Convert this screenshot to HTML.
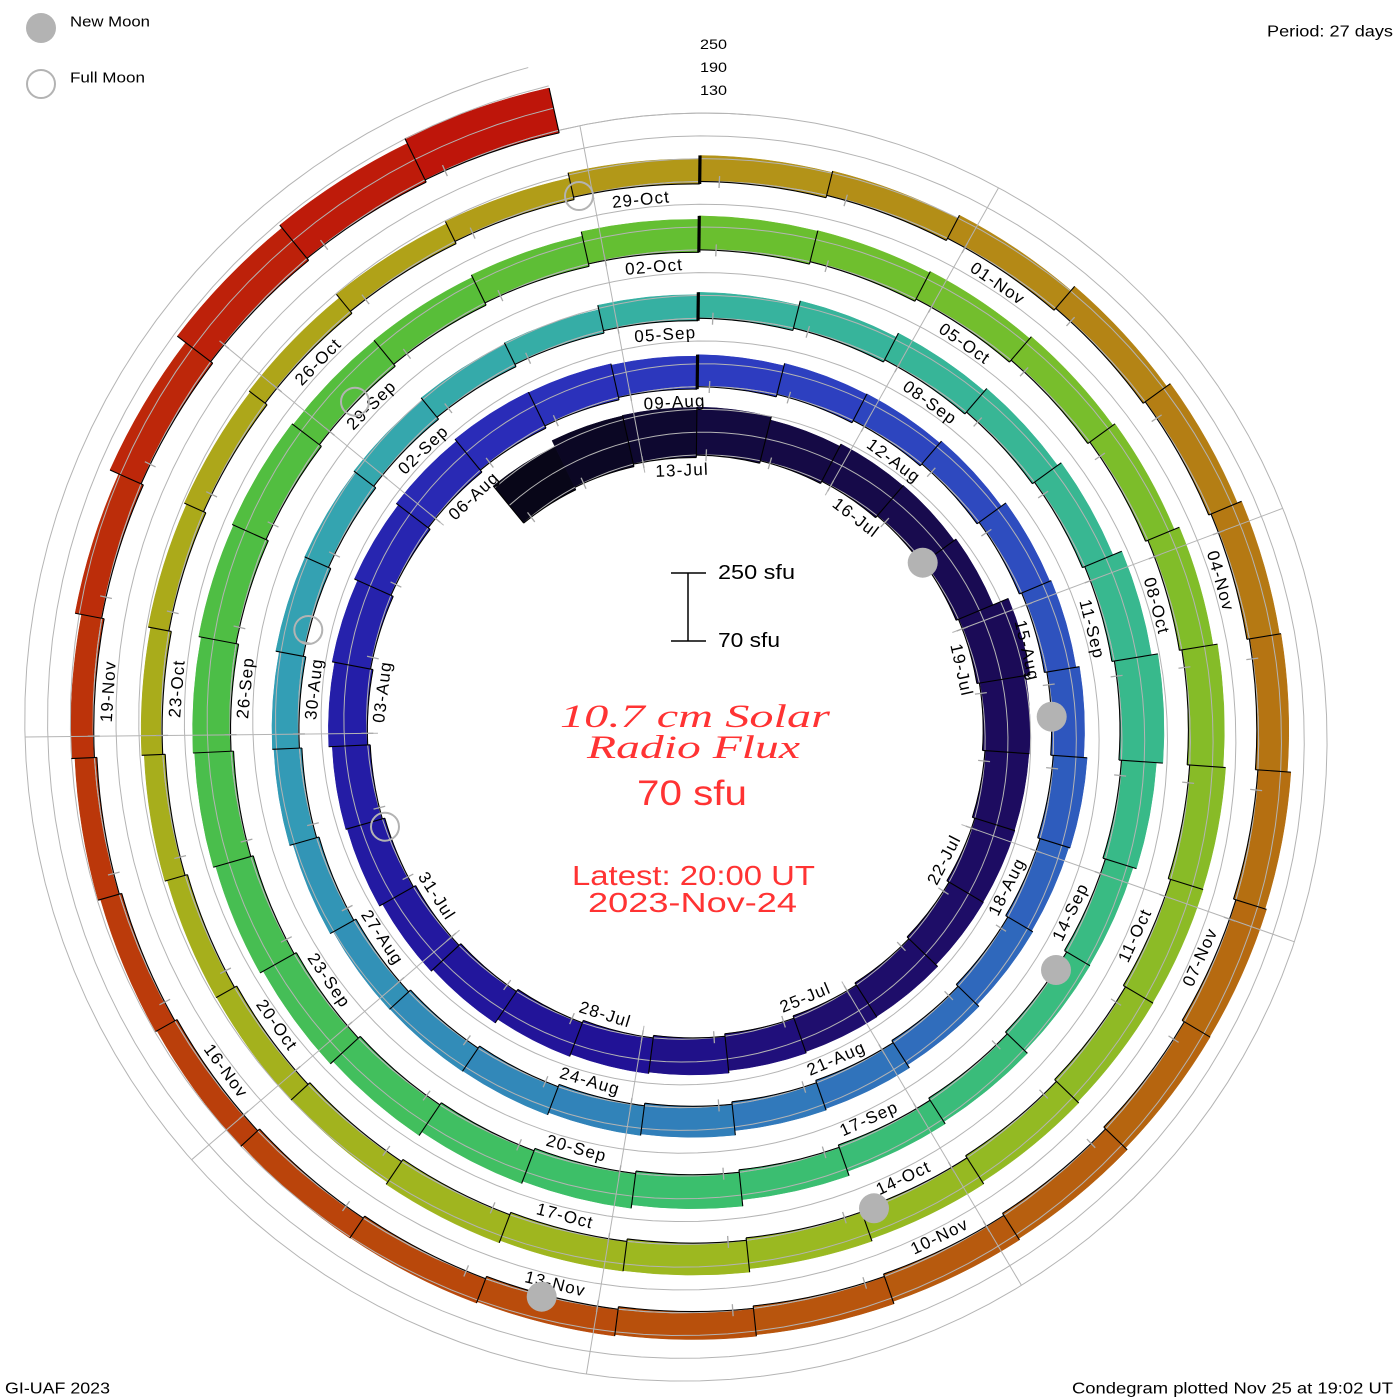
<!DOCTYPE html>
<html>
<head>
<meta charset="utf-8">
<style>
html,body{margin:0;padding:0;background:#fff;}
svg{display:block;}
text{font-family:"Liberation Sans",sans-serif;}
</style>
</head>
<body>
<svg id="s" width="1400" height="1400" viewBox="0 0 1400 1400" xmlns="http://www.w3.org/2000/svg">
<rect x="0" y="0" width="1400" height="1400" fill="#ffffff"/>
<g id="bars"></g>
<g id="grid" fill="none" stroke="#b4b4b4" stroke-width="1"></g>
<g id="edges" stroke="#000" fill="none"></g>
<g id="ticks" stroke="#a8a8a8" stroke-width="1.3"></g>
<g id="labels" font-size="17" fill="#000" text-anchor="middle" dominant-baseline="central" letter-spacing="1.2">
<text>13-Jul</text><text>16-Jul</text><text>19-Jul</text><text>22-Jul</text><text>25-Jul</text><text>28-Jul</text><text>31-Jul</text>
<text>03-Aug</text><text>06-Aug</text><text>09-Aug</text><text>12-Aug</text><text>15-Aug</text><text>18-Aug</text><text>21-Aug</text><text>24-Aug</text><text>27-Aug</text><text>30-Aug</text>
<text>02-Sep</text><text>05-Sep</text><text>08-Sep</text><text>11-Sep</text><text>14-Sep</text><text>17-Sep</text><text>20-Sep</text><text>23-Sep</text><text>26-Sep</text><text>29-Sep</text>
<text>02-Oct</text><text>05-Oct</text><text>08-Oct</text><text>11-Oct</text><text>14-Oct</text><text>17-Oct</text><text>20-Oct</text><text>23-Oct</text><text>26-Oct</text><text>29-Oct</text>
<text>01-Nov</text><text>04-Nov</text><text>07-Nov</text><text>10-Nov</text><text>13-Nov</text><text>16-Nov</text><text>19-Nov</text>
</g>

<!-- moons -->
<g fill="#b3b3b3">
<circle cx="922.7" cy="562.7" r="15"/>
<circle cx="1051.7" cy="716.7" r="15"/>
<circle cx="1056" cy="970" r="15"/>
<circle cx="874" cy="1208.3" r="15"/>
<circle cx="541.7" cy="1296.7" r="15"/>
</g>
<g fill="none" stroke="#b3b3b3" stroke-width="2">
<circle cx="579" cy="196" r="14"/>
<circle cx="355" cy="401.7" r="14"/>
<circle cx="308.3" cy="630" r="14"/>
<circle cx="385" cy="826.7" r="14"/>
</g>

<!-- legend -->
<circle cx="41" cy="28" r="15" fill="#b3b3b3"/>
<circle cx="41" cy="84" r="14" fill="none" stroke="#b3b3b3" stroke-width="2"/>
<text x="70" y="22" font-size="15" dominant-baseline="central" textLength="80" lengthAdjust="spacingAndGlyphs">New Moon</text>
<text x="70" y="78" font-size="15" dominant-baseline="central" textLength="75" lengthAdjust="spacingAndGlyphs">Full Moon</text>

<!-- top level labels -->
<text x="700" y="44" font-size="14" dominant-baseline="central" textLength="27" lengthAdjust="spacingAndGlyphs">250</text>
<text x="700" y="67" font-size="14" dominant-baseline="central" textLength="27" lengthAdjust="spacingAndGlyphs">190</text>
<text x="700" y="90" font-size="14" dominant-baseline="central" textLength="27" lengthAdjust="spacingAndGlyphs">130</text>

<text x="1267" y="32" font-size="16" dominant-baseline="central" textLength="126" lengthAdjust="spacingAndGlyphs">Period: 27 days</text>
<text x="5" y="1389" font-size="16" dominant-baseline="central" textLength="105" lengthAdjust="spacingAndGlyphs">GI-UAF 2023</text>
<text x="1072" y="1389" font-size="16" dominant-baseline="central" textLength="321" lengthAdjust="spacingAndGlyphs">Condegram plotted Nov 25 at 19:02 UT</text>

<!-- scale bar -->
<g stroke="#000" stroke-width="1.5">
<line x1="688" y1="573" x2="688" y2="641"/>
<line x1="671" y1="573" x2="706" y2="573"/>
<line x1="671" y1="641" x2="706" y2="641"/>
</g>
<text x="718" y="573" font-size="20" dominant-baseline="central" textLength="77" lengthAdjust="spacingAndGlyphs">250 sfu</text>
<text x="718" y="641" font-size="20" dominant-baseline="central" textLength="62" lengthAdjust="spacingAndGlyphs">70 sfu</text>

<!-- center title -->
<g fill="#ff3333" text-anchor="middle">
<text x="695" y="727" font-style="italic" font-size="33" textLength="270" lengthAdjust="spacingAndGlyphs" style="font-family:'Liberation Serif',serif">10.7 cm Solar</text>
<text x="693.5" y="758" font-style="italic" font-size="33" textLength="213" lengthAdjust="spacingAndGlyphs" style="font-family:'Liberation Serif',serif">Radio Flux</text>
<text x="692" y="805" font-size="35" textLength="110" lengthAdjust="spacingAndGlyphs">70 sfu</text>
<text x="693.5" y="885" font-size="28" textLength="243" lengthAdjust="spacingAndGlyphs">Latest: 20:00 UT</text>
<text x="692.5" y="912" font-size="28" textLength="209" lengthAdjust="spacingAndGlyphs">2023-Nov-24</text>
</g>
</svg>

<script>
(function(){
var NS="http://www.w3.org/2000/svg";
var CX=693,CY=730,A0=-129.3,DA=360/27,R0=267.4,DR=68.4/27;
function rb(u){return R0+DR*u;}
function ang(u){return A0+DA*u;}
function pt(r,a){var t=a*Math.PI/180;return [(CX+r*Math.cos(t)).toFixed(2),(CY+r*Math.sin(t)).toFixed(2)];}
function el(tag,attrs,parent){var e=document.createElementNS(NS,tag);for(var k in attrs){e.setAttribute(k,attrs[k]);}parent.appendChild(e);return e;}

var H=[48,52,50,
48,42,42,40,40,54,47,44,42,40,40,38,37,37,36,36,38,38,39,38,39,39,40,40,40,37,33,
32,32,30,30,33,32,33,34,30,29,29,30,29,31,30,30,28,26,27,28,27,28,26,25,25,24,26,
26,28,30,31,33,40,44,35,29,27,28,28,30,34,35,35,37,38,39,39,38,38,37,33,31,31,33,
34,32,31,31,31,34,36,36,34,32,31,31,31,32,30,30,25,23,21,21,21,21,21,20,22,22,25,
26,25,26,29,31,33,32,33,32,30,30,29,29,28,27,26,24,23,22,22,23,27,34,42,43,46];

var stops=[[0,8,6,24],[2,14,8,48],[3,19,10,64],[9,28,11,92],[14,31,14,110],[17,33,18,150],
[23,36,30,168],[27,42,44,184],[30,45,60,192],[36,46,86,190],[43,49,127,186],[50,51,158,181],
[54,53,170,170],[57,55,179,158],[63,56,185,140],[70,59,191,109],[77,76,190,71],[81,88,190,57],
[84,106,191,47],[90,133,188,40],[97,157,184,32],[104,169,172,27],[108,176,162,24],[111,179,147,24],
[117,181,116,18],[124,184,80,12],[131,188,51,10],[136,190,21,10]];
function col(i){
  for(var s=0;s<stops.length-1;s++){
    if(i<=stops[s+1][0]){
      var a=stops[s],b=stops[s+1];var f=(i-a[0])/(b[0]-a[0]);
      return 'rgb('+Math.round(a[1]+f*(b[1]-a[1]))+','+Math.round(a[2]+f*(b[2]-a[2]))+','+Math.round(a[3]+f*(b[3]-a[3]))+')';
    }
  }
  var l=stops[stops.length-1];return 'rgb('+l[1]+','+l[2]+','+l[3]+')';
}

var bars=document.getElementById('bars'),edges=document.getElementById('edges'),grid=document.getElementById('grid'),ticks=document.getElementById('ticks');
var N=H.length,i;

for(i=0;i<N;i++){
  var a1=ang(i),a2=ang(i+1),r1=rb(i),r2=r1+H[i];
  var p1=pt(r1,a1),p2=pt(r1,a2),p3=pt(r2,a2),p4=pt(r2,a1);
  var c=col(i);
  var d='M'+p1[0]+','+p1[1]+' A'+r1.toFixed(2)+','+r1.toFixed(2)+' 0 0 1 '+p2[0]+','+p2[1]+
        ' L'+p3[0]+','+p3[1]+' A'+r2.toFixed(2)+','+r2.toFixed(2)+' 0 0 0 '+p4[0]+','+p4[1]+' Z';
  el('path',{d:d,fill:c,stroke:c,'stroke-width':'0.5'},bars);
  el('path',{d:'M'+p1[0]+','+p1[1]+' A'+r1.toFixed(2)+','+r1.toFixed(2)+' 0 0 1 '+p2[0]+','+p2[1],'stroke-width':'1.1'},edges);
}

/* grid spirals */
var UM=[138.35,137,137,136.9];
for(var k=0;k<4;k++){
  var umax=UM[k];var pts=[];
  for(var u=0;u<=umax+1e-9;u+=0.2){var p=pt(rb(u)+22.8*k,ang(u));pts.push(p[0]+','+p[1]);}
  var pe=pt(rb(umax)+22.8*k,ang(umax));pts.push(pe[0]+','+pe[1]);
  el('polyline',{points:pts.join(' ')},grid);
}
/* radial lines */
for(var j=0;j<9;j++){
  var th=19.4+40*j;var tn=((th-A0)%360+360)%360;var u0=tn/DA;var ul=u0+27*Math.floor((160-u0)/27);
  var q1=pt(rb(u0)-11,th),q2=pt(rb(ul),th);
  el('line',{x1:q1[0],y1:q1[1],x2:q2[0],y2:q2[1]},grid);
}

/* segment boundaries */
for(i=0;i<=N;i++){
  var a=ang(i);
  var rin=(i>0)?rb(i-1):rb(0);
  var ro=Math.max((i>0)?rb(i-1)+H[i-1]:0,(i<N)?rb(i)+H[i]:0);
  var w=(i>=30&&(i-3)%27===0)?3.2:1.1;
  if(i===1) continue;
  var b1=pt(rin,a),b2=pt(ro,a);
  el('line',{x1:b1[0],y1:b1[1],x2:b2[0],y2:b2[1],'stroke-width':w},edges);
}

/* date ticks */
for(var dd=-3;dd<=134;dd++){
  var t=-87.25+DA*dd;var uu=(t-A0)/DA;if(uu<0||uu>=N)continue;
  var r=rb(Math.floor(uu));
  var t1=pt(r-6,t),t2=pt(r+6,t);
  el('line',{x1:t1[0],y1:t1[1],x2:t2[0],y2:t2[1]},ticks);
}

/* labels */
var labs=document.getElementById('labels').getElementsByTagName('text');
for(var n=0;n<labs.length;n++){
  var dl=3*n;var al=-92.4+13.3037*dl;var ulab=(al-A0)/DA;var rl=rb(ulab)-14.5;
  var am=((al%360)+360)%360;var rr=(am>0&&am<180)?-90:90;
  labs[n].setAttribute('transform','translate('+CX+','+CY+') rotate('+am.toFixed(2)+') translate('+rl.toFixed(2)+',0) rotate('+rr+')');
}
})();
</script>
</body>
</html>
